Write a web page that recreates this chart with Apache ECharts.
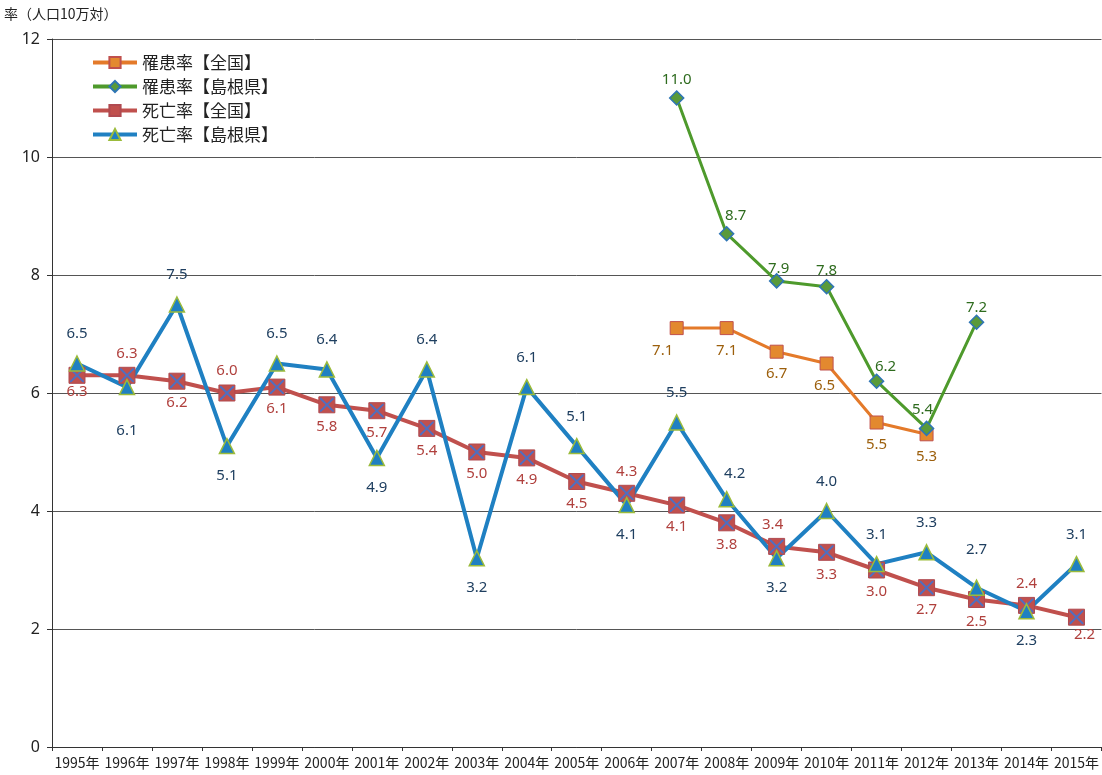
<!DOCTYPE html>
<html><head><meta charset="utf-8">
<script src="https://cdn.jsdelivr.net/npm/echarts@6/dist/echarts.min.js"></script>
<style>html,body{margin:0;padding:0;background:#fff}#c{width:1102px;height:775px}</style>
</head><body><div id="c"></div>
<script>
var years = ['1995年','1996年','1997年','1998年','1999年','2000年','2001年','2002年','2003年','2004年','2005年','2006年','2007年','2008年','2009年','2010年','2011年','2012年','2013年','2014年','2015年'];
var incNational = [null,null,null,null,null,null,null,null,null,null,null,null,7.1,7.1,6.7,6.5,5.5,5.3,null,null,null];
var incShimane  = [null,null,null,null,null,null,null,null,null,null,null,null,11.0,8.7,7.9,7.8,6.2,5.4,7.2,null,null];
var mortNational = [6.3,6.3,6.2,6.0,6.1,5.8,5.7,5.4,5.0,4.9,4.5,4.3,4.1,3.8,3.4,3.3,3.0,2.7,2.5,2.4,2.2];
var mortShimane  = [6.5,6.1,7.5,5.1,6.5,6.4,4.9,6.4,3.2,6.1,5.1,4.1,5.5,4.2,3.2,4.0,3.1,3.3,2.7,2.3,3.1];
var yTicks = [0,2,4,6,8,10,12];
var names = ['罹患率【全国】','罹患率【島根県】','死亡率【全国】','死亡率【島根県】'];

// label placement (style only): T = top, B = bottom
var posIncNat  = ['B','B','B','B','B','B','B','B','B','B','B','B','B','B','B','B','B','B','B','B','B'];
var offIncNat  = {12:[-14,0],15:[-2,0]};
var posIncShi  = ['T','T','T','T','T','T','T','T','T','T','T','T','T','T','T','T','T','T','T','T','T'];
var offIncShi  = {13:[9,0],16:[9,4],17:[-4,0],14:[2,6],18:[0,4],15:[0,2]};
var posMortNat = ['B','T','B','T','B','B','B','B','B','B','B','T','B','B','T','B','B','B','B','T','B'];
var offMortNat = {0:[0,-6],20:[8,-4],14:[-4,0]};
var posMortShi = ['T','B','T','B','T','T','B','T','B','T','T','B','T','T','B','T','T','T','T','B','T'];
var offMortShi = {1:[0,14],13:[8,4],18:[0,-8]};

function buildData(vals, pos, off, dist){
  return vals.map(function(v,i){
    if(v===null) return null;
    var p = pos[i]==='T' ? 'top' : 'bottom';
    var o = off[i] || [0,0];
    return {value:v, label:{position:p, distance:dist, offset:o}};
  });
}
var fmt = function(p){ return Number(p.value).toFixed(1); };
var xPath = 'path://M0,0 L2,0 L10,8 L18,0 L20,0 L20,2 L12,10 L20,18 L20,20 L18,20 L10,12 L2,20 L0,20 L0,18 L8,10 L0,2 Z';
var cjk = '"Noto Sans CJK JP",sans-serif';

var chart = echarts.init(document.getElementById('c'));
chart.setOption({
  animation:false,
  textStyle:{fontFamily:'"Noto Sans","Noto Sans CJK JP",sans-serif'},
  graphic:[{type:'text', left:4, top:7, style:{text:'率（人口10万対）', fontSize:14, fill:'#222', fontFamily:cjk}}],
  legend:{
    data:names, orient:'vertical', left:86, top:49, itemWidth:44, itemHeight:14, itemGap:7,
    lineStyle:{width:4},
    textStyle:{fontSize:17, color:'#222', fontFamily:cjk}
  },
  grid:{left:52, right:0, top:39, bottom:28, containLabel:false},
  xAxis:{
    type:'category', data:years, boundaryGap:true,
    axisLine:{lineStyle:{color:'#333', width:1}},
    axisTick:{show:true, alignWithLabel:false, length:4, lineStyle:{color:'#333'}},
    axisLabel:{interval:0, fontSize:14, color:'#222', margin:9, fontFamily:cjk}
  },
  yAxis:{
    type:'value', min:0, max:12, interval:2,
    axisLine:{show:true, lineStyle:{color:'#333', width:1}},
    axisTick:{show:true, length:5, lineStyle:{color:'#333'}},
    axisLabel:{fontSize:16, color:'#222', margin:12, formatter:function(v){return yTicks.indexOf(v)>=0?String(v):'';}},
    splitLine:{show:true, lineStyle:{color:'#555', width:1}}
  },
  series:[
    {name:names[0], type:'line', data:buildData(incNational,posIncNat,offIncNat,8), connectNulls:false,
     symbol:'rect', symbolSize:13,
     lineStyle:{color:'#E47A2A', width:3},
     itemStyle:{color:'#E3892F', borderColor:'#C0504D', borderWidth:1},
     label:{show:true, formatter:fmt, fontSize:15, color:'#9C5F0C'}},
    {name:names[1], type:'line', data:buildData(incShimane,posIncShi,offIncShi,3),
     symbol:'diamond', symbolSize:14,
     lineStyle:{color:'#4E9A2C', width:3},
     itemStyle:{color:'#5A9A3A', borderColor:'#2E75B6', borderWidth:1.5},
     label:{show:true, formatter:fmt, fontSize:15, color:'#2E6B1E'}},
    {name:names[2], type:'line', data:buildData(mortNational,posMortNat,offMortNat,6),
     symbol:'rect', symbolSize:16,
     lineStyle:{color:'#C0504D', width:4},
     itemStyle:{color:'#C0504D', borderColor:'#B04A50', borderWidth:1},
     label:{show:true, formatter:fmt, fontSize:15, color:'#B0403D'}},
    {name:'x', type:'line', data:mortNational, symbol:xPath, symbolSize:14, silent:true,
     lineStyle:{width:0, opacity:0}, itemStyle:{color:'#4F6FC0'}, label:{show:false}, tooltip:{show:false}},
    {name:names[3], type:'line', data:buildData(mortShimane,posMortShi,offMortShi,14),
     symbol:'triangle', symbolSize:15,
     lineStyle:{color:'#1F80C2', width:4},
     itemStyle:{color:'#1F80C2', borderColor:'#9BBB3B', borderWidth:1.5},
     label:{show:true, formatter:fmt, fontSize:15, color:'#1F3F60'}}
  ]
});
</script>
</body></html>
